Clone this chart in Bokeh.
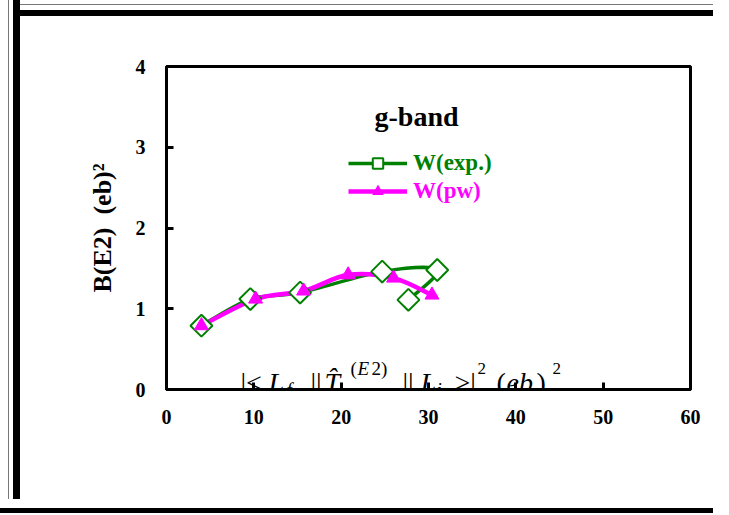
import numpy as np
from bokeh.plotting import figure
from bokeh.models import Range1d, FixedTicker, Legend, LegendItem, Label, ColumnDataSource
from bokeh.embed import file_html
from bokeh.resources import INLINE

# ---------------- data ----------------
exp_x = [4.0, 9.6, 15.3, 24.7, 31.0, 27.7]
exp_y = [0.79, 1.12, 1.20, 1.46, 1.48, 1.11]
pw_x = [4.0, 10.2, 15.7, 20.8, 26.0, 30.4]
pw_y = [0.79, 1.12, 1.22, 1.42, 1.38, 1.17]
x_ticks = [0, 10, 20, 30, 40, 50, 60]
y_ticks = [0, 1, 2, 3, 4]
exp_label = "W(exp.)"
pw_label = "W(pw)"
band_title = "g-band"
y_title = "B(E2)\u00a0\u00a0(eb)\u00b2"

GREEN = "#008000"
MAGENTA = "#FF00FF"
SERIF = "Liberation Serif"

FRAME_W, FRAME_H = 524, 323
X_MAX, Y_MAX = 60, 4

p = figure(
    frame_width=FRAME_W, frame_height=FRAME_H,
    min_border_left=166, min_border_right=23, min_border_top=66, min_border_bottom=110,
    x_range=Range1d(0, X_MAX), y_range=Range1d(0, Y_MAX),
    output_backend="svg", toolbar_location=None,
    background_fill_color="white", border_fill_color=None,
)
# page frame like the reference: thin grey line, white gap, thick black band
p.styles = {
    "background-color": "white",
    "box-shadow": ", ".join([
        "inset 8px 0 0 0 #ffffff",
        "inset 9px 0 0 0 #777777",
        "inset 13px 0 0 0 #ffffff",
        "inset 20px 0 0 0 #000000",
        "inset 0 4px 0 0 #ffffff",
        "inset 0 5px 0 0 #777777",
        "inset 0 10px 0 0 #ffffff",
        "inset 0 16px 0 0 #000000",
        "0 9px 0 0 #ffffff",
        "0 14px 0 0 #000000",
    ]),
}
p.grid.visible = False
p.outline_line_color = "black"
p.outline_line_width = 3

for ax, ticks in ((p.xaxis[0], x_ticks), (p.yaxis[0], y_ticks)):
    ax.ticker = FixedTicker(ticks=ticks)
    ax.minor_tick_line_color = None
    ax.major_tick_in = 7
    ax.major_tick_out = 0
    ax.major_tick_line_width = 3
    ax.major_tick_line_color = "black"
    ax.axis_line_width = 3
    ax.axis_line_color = "black"
    ax.major_label_text_font = SERIF
    ax.major_label_text_font_style = "bold"
    ax.major_label_text_font_size = "20px"
    ax.major_label_text_color = "black"

p.xaxis.major_label_standoff = 20
p.yaxis.major_label_standoff = 21
p.yaxis.axis_label = y_title
p.yaxis.axis_label_text_font = SERIF
p.yaxis.axis_label_text_font_style = "bold"
p.yaxis.axis_label_text_font_size = "26px"
p.yaxis.axis_label_text_color = "black"
p.yaxis.axis_label_standoff = 16


def smooth(xs, ys):
    P = np.column_stack([xs, ys]).astype(float)
    n = len(P)
    d = dict(x0=[], y0=[], x1=[], y1=[], cx0=[], cy0=[], cx1=[], cy1=[])
    for i in range(n - 1):
        pm = P[i - 1] if i > 0 else P[i]
        pp = P[i + 2] if i + 2 < n else P[i + 1]
        c1 = P[i] + (P[i + 1] - pm) / 6.0
        c2 = P[i + 1] - (pp - P[i]) / 6.0
        d["x0"].append(P[i][0]); d["y0"].append(P[i][1])
        d["x1"].append(P[i + 1][0]); d["y1"].append(P[i + 1][1])
        d["cx0"].append(c1[0]); d["cy0"].append(c1[1])
        d["cx1"].append(c2[0]); d["cy1"].append(c2[1])
    return ColumnDataSource(d)


exp_src = ColumnDataSource(dict(x=exp_x, y=exp_y))
pw_src = ColumnDataSource(dict(x=pw_x, y=pw_y))

exp_curve = p.bezier(x0="x0", y0="y0", x1="x1", y1="y1", cx0="cx0", cy0="cy0", cx1="cx1", cy1="cy1",
                     source=smooth(exp_x, exp_y), line_color=GREEN, line_width=3.5)
pw_curve = p.bezier(x0="x0", y0="y0", x1="x1", y1="y1", cx0="cx0", cy0="cy0", cx1="cx1", cy1="cy1",
                    source=smooth(pw_x, pw_y), line_color=MAGENTA, line_width=4.5)

exp_pts = p.scatter("x", "y", source=exp_src, marker="square", angle=np.pi / 4, size=15.5,
                    fill_color="white", line_color=GREEN, line_width=2)
pw_pts = p.scatter("x", "y", source=pw_src, marker="triangle", size=14,
                   fill_color=MAGENTA, line_color=MAGENTA, line_width=1)


def make_legend(label, renderers, color, loc):
    lg = Legend(items=[LegendItem(label=label, renderers=renderers)], location=loc,
                padding=0, margin=0, spacing=0, glyph_width=59, glyph_height=26,
                label_height=26, label_standoff=6,
                border_line_alpha=0, background_fill_alpha=0,
                label_text_font=SERIF, label_text_font_style="bold",
                label_text_font_size="23px", label_text_color=color)
    p.add_layout(lg, "center")


make_legend(exp_label, [exp_curve, exp_pts], GREEN, (182, 213))
make_legend(pw_label, [pw_curve, pw_pts], MAGENTA, (182, 185))

px_x = FRAME_W / X_MAX
px_y = FRAME_H / Y_MAX
DESC = 0.216  # text box bottom sits this fraction of the font size below the baseline

# title inside plot
p.add_layout(Label(x=250 / px_x, y=(267 + DESC * 28) / px_y, text=band_title, text_align="center",
                   text_baseline="alphabetic", text_font=SERIF,
                   text_font_style="bold", text_font_size="28px", text_color="black"))

# formula drawn along the x axis: (text, left px from frame, baseline px above frame bottom, size, style)
formula = [
    ("|<", 74, 1, 28, "normal"),
    ("L", 102, 1, 28, "italic"),
    ("f", 120, -4, 19, "italic"),
    ("||", 144, 1, 28, "normal"),
    ("T\u0302", 158, 1, 28, "italic"),
    ("(", 184, 17, 19, "normal"),
    ("E", 191, 17, 19, "italic"),
    ("2)", 205, 17, 19, "normal"),
    ("||", 236, 1, 28, "normal"),
    ("L", 254, 1, 28, "italic"),
    ("i", 270, -4, 19, "italic"),
    (">|", 288, 1, 28, "normal"),
    ("2", 311, 17, 17, "normal"),
    ("(", 330, 1, 28, "normal"),
    ("eb", 340, 1, 28, "italic"),
    (")", 370, 1, 28, "normal"),
    ("2", 386, 17, 17, "normal"),
]
for txt, rx, rb, fs, style in formula:
    p.add_layout(Label(x=rx / px_x, y=(rb + DESC * fs) / px_y, text=txt, text_align="left",
                       text_baseline="alphabetic", text_font=SERIF,
                       text_font_style=style, text_font_size=f"{fs}px", text_color="black"))

open("out.html", "w").write(file_html(p, INLINE))
